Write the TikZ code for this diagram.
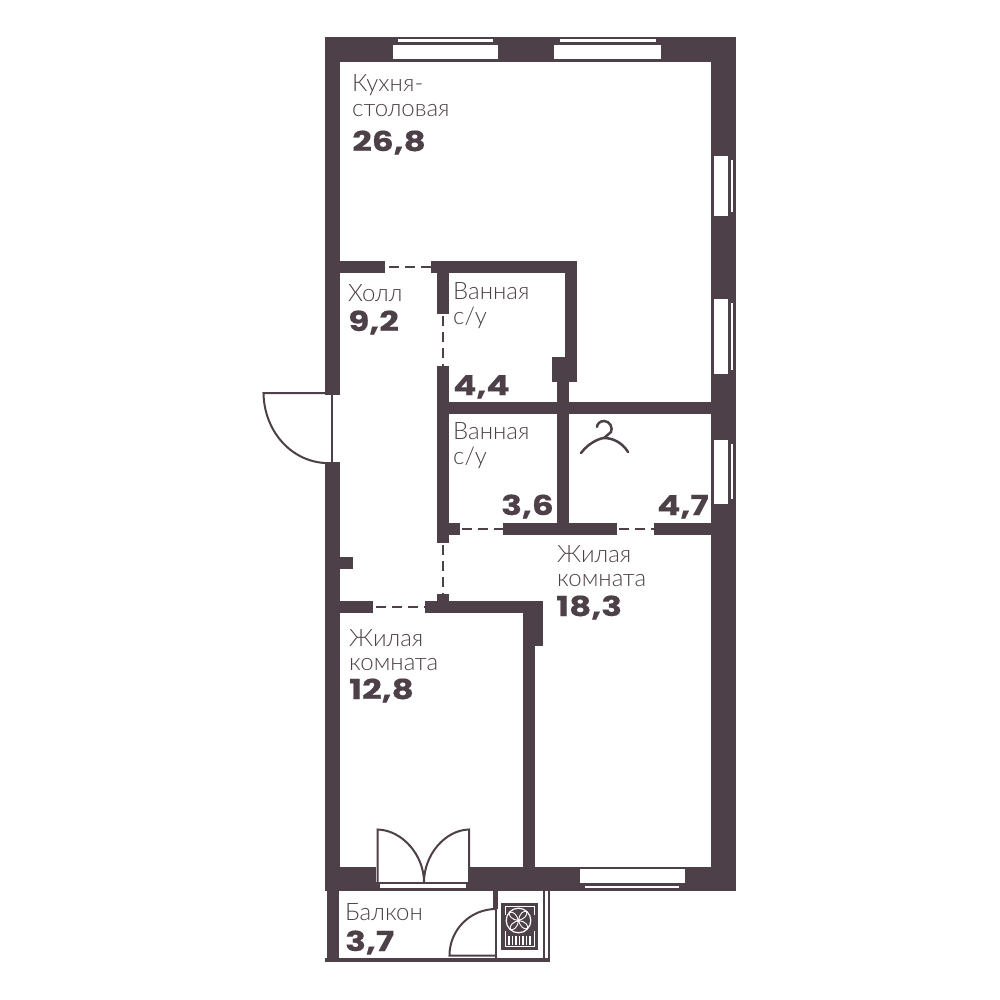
\documentclass[tikz,border=0pt]{standalone}
\usepackage{fontspec}
\newfontfamily\labfont{Lato Light}
\newfontfamily\numfont[BoldFeatures={FakeStretch=1.25,FakeBold=0.4}]{Poppins}
\definecolor{wallc}{RGB}{77,64,72}
\tikzset{
  wall/.style={fill=wallc,draw=none},
  glass/.style={fill=white,draw=none},
  thin/.style={draw=wallc,line width=2pt},
  gap/.style={draw=wallc,line width=2pt,dash pattern=on 10pt off 6pt},
  lab/.style={anchor=north west,inner sep=0pt,align=left,text=wallc,font=\labfont\fontsize{24}{24.5}\selectfont},
  num/.style={anchor=base west,inner sep=0pt,text=wallc,font=\numfont\bfseries\fontsize{27.5}{27.5}\selectfont}
}
\begin{document}
\begin{tikzpicture}[x=1pt,y=-1pt]
\useasboundingbox (0,0) rectangle (1000,1000);
% outer walls
\fill[wall] (325,37) rectangle (736,62);
\fill[wall] (325,37) rectangle (340,395);
\fill[wall] (325,462) rectangle (340,891);
\fill[wall] (711,37) rectangle (736,891);
\fill[wall] (325,867) rectangle (736,891);
% windows top
\fill[glass] (393,45) rectangle (498,59);
\fill[glass] (398,39.3) rectangle (493,42);
\fill[glass] (554,45) rectangle (661,59);
\fill[glass] (560,39.3) rectangle (656,42);
% windows right
\fill[glass] (714,156) rectangle (728,216);
\fill[glass] (731,160) rectangle (733.3,212);
\fill[glass] (714,299) rectangle (728,374);
\fill[glass] (731,303) rectangle (733.3,370);
\fill[glass] (714,440) rectangle (728,504);
\fill[glass] (731,444) rectangle (733.3,499);
% window bottom
\fill[glass] (580,869) rectangle (685,883);
\fill[glass] (585,886) rectangle (679,888);
% inner walls
\fill[wall] (340,261) rectangle (385,273);
\fill[wall] (431,261) rectangle (577,273);
\fill[wall] (565,261) rectangle (577,382);
\fill[wall] (552,357) rectangle (577,382);
\fill[wall] (557,382) rectangle (569,535);
\fill[wall] (437,402) rectangle (711,414);
\fill[wall] (437,273) rectangle (449,314);
\fill[wall] (437,366) rectangle (449,543);
\fill[wall] (437,523) rectangle (460,535);
\fill[wall] (503,523) rectangle (617,535);
\fill[wall] (654,523) rectangle (711,535);
\fill[wall] (437,594) rectangle (449,601);
\fill[wall] (425,601) rectangle (543,613);
\fill[wall] (523,601) rectangle (543,646);
\fill[wall] (523,646) rectangle (535,867);
\fill[wall] (340,601) rectangle (373,613);
\fill[wall] (340,557) rectangle (353,569);
% door openings (dashed)
\coordinate (d1a) at (389,267); \coordinate (d1b) at (431,267);
\coordinate (d2a) at (443,316); \coordinate (d2b) at (443,366);
\coordinate (d3a) at (462,529); \coordinate (d3b) at (503,529);
\coordinate (d4a) at (619,529); \coordinate (d4b) at (654,529);
\coordinate (d5a) at (443,545); \coordinate (d5b) at (443,594);
\coordinate (d6a) at (376,607); \coordinate (d6b) at (425,607);
\draw[gap] (d1a) -- (d1b);
\draw[gap] (d2a) -- (d2b);
\draw[gap] (d3a) -- (d3b);
\draw[gap] (d4a) -- (d4b);
\draw[gap] (d5a) -- (d5b);
\draw[gap] (d6a) -- (d6b);
% entrance door
\draw[thin] (332,395) -- (332,462);
\draw[thin] (325,393) -- (263.5,393) .. controls (264,430) and (290,461) .. (325,463);
% balcony door pair
\fill[glass] (376,867) rectangle (470,882);
\fill[glass] (380,884) rectangle (466,888);
\draw[thin] (377.5,882) -- (377.5,829.5) .. controls (402,830) and (424,855) .. (424,882);
\draw[thin] (469,882) -- (469,829.5) .. controls (445,830) and (424,855) .. (424,882);
\draw[thin] (377,882.5) -- (469,882.5);
% balcony
\fill[wall] (327,891) rectangle (339,958);
\fill[wall] (325,958) rectangle (550,962);
\fill[wall] (493,891) rectangle (498,909);
\draw[thin] (496,909) -- (496,958);
\draw[thin] (496,909) .. controls (470,909) and (449.5,930) .. (449.5,955.5) -- (496,955.5);
\fill[wall] (543,891) rectangle (545,958);
\fill[wall] (548,891) rectangle (550,958);
% AC unit
\fill[wall] (501,903) rectangle (538,950);
\draw[draw=white,line width=.9pt] (505,906.5) rectangle (534.5,946);
\fill[wallc] (502,915) rectangle (537,931);
\draw[draw=white,line width=1.2pt] (518.5,920.5) circle (12.3);
\fill[white] (518.5,920.5) circle (1.6);
\foreach \a in {10,100,190,280}{
  \draw[draw=white,line width=.9pt,rotate around={\a:(518.5,920.5)}] (518.5,920.5) .. controls (520,914) and (526,911) .. (528,913) .. controls (529,917) and (524,920) .. (518.5,920.5);
}
\foreach \x in {509,512.5,516,519.5,523,526.5,530}{
  \draw[draw=white,line width=1.2pt] (\x,936) -- (\x,944.5);
}
% hanger
\draw[draw=wallc,line width=2.5pt,line cap=round] (581,453) .. controls (590,441) and (602,438) .. (604,438) .. controls (612,438) and (622,442) .. (628,452);
\draw[draw=wallc,line width=2.5pt,line cap=round] (604,438) -- (611,432) .. controls (613,428) and (610,421) .. (604,421) .. controls (600,421) and (597,424) .. (597,427);
% labels
\node[lab] (t1) at (352,74.5) {Кухня-\\столовая};
\node[num] (n1) at (352,151) {26,8};
\node[lab] (t2) at (348,284.5) {Холл};
\node[num] (n2) at (348,331) {9,2};
\node[lab] (t3) at (453,282.5) {Ванная\\с/у};
\node[num] (n3) at (453,395) {4,4};
\node[lab] (t4) at (453,422.5) {Ванная\\с/у};
\node[num] (n4) at (501,515) {3,6};
\node[num] (n5) at (657,515) {4,7};
\node[lab] (t5) at (557,545) {Жилая\\комната};
\node[num] (n6) at (556,616) {18,3};
\node[lab] (t6) at (349,629) {Жилая\\комната};
\node[num] (n7) at (349,699) {12,8};
\node[lab] (t7) at (345,903.5) {Балкон};
\node[num] (n8) at (345,951) {3,7};
\end{tikzpicture}
\end{document}
